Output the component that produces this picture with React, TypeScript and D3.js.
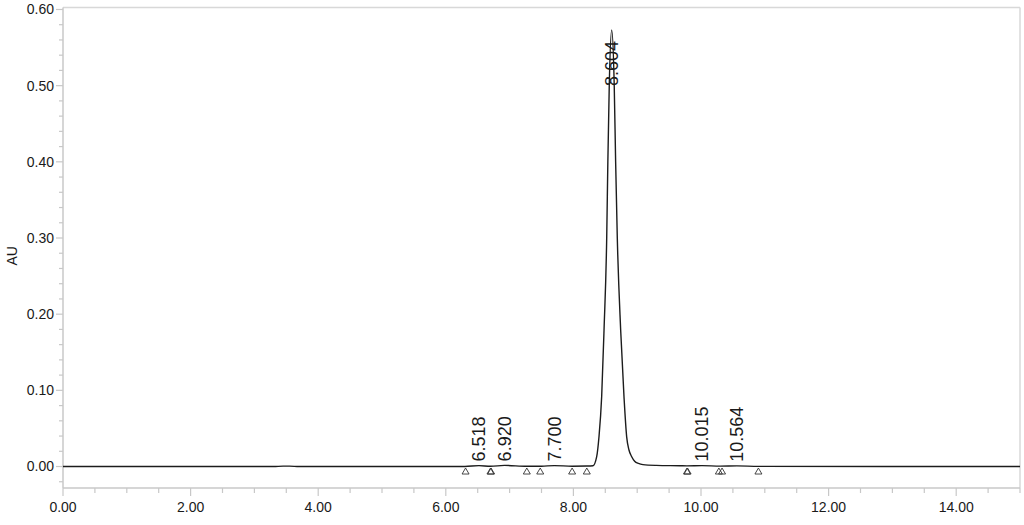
import React from "react";
import * as d3 from "d3";

// Chromatogram trace: retention time (min) and absorbance (AU)
const traceTime = [
  0, 3.3, 3.45, 3.55, 3.7, 6.3, 6.52, 6.7, 6.92, 7.27, 7.5, 7.7, 7.98, 8.21, 8.307,
  8.365, 8.401, 8.443, 8.48, 8.522, 8.54, 8.562, 8.6, 8.64, 8.662, 8.688, 8.741,
  8.793, 8.835, 8.87, 8.914, 8.96, 9.02, 9.09, 9.3, 9.67, 9.78, 10.015, 10.3, 10.564,
  10.9, 15,
];
const traceAU = [
  0, 0, 0.0005, 0.0005, 0, 0, 0.0012, 0.0003, 0.0015, 0.0003, 0.0004, 0.0012, 0.0004,
  0.0006, 0.001, 0.0129, 0.039, 0.0916, 0.179, 0.3, 0.4, 0.5, 0.573, 0.5,
  0.4, 0.3, 0.179, 0.0916, 0.039, 0.022, 0.0129, 0.007, 0.004, 0.0025, 0.0015,
  0.001, 0.0008, 0.0012, 0.0005, 0.0009, 0.0002, 0,
];

// Labelled peaks
const peakTimes = [6.518, 6.92, 7.7, 8.604, 10.015, 10.564];
const peakLabels = ["6.518", "6.920", "7.700", "8.604", "10.015", "10.564"];
const peakHeights = [0.0012, 0.0015, 0.0012, 0.573, 0.0012, 0.0009];

// Integration start/end markers (triangles)
const markerTimes = [6.31, 6.7, 6.71, 7.27, 7.48, 7.98, 8.21, 9.78, 9.79, 10.28, 10.33, 10.9];

// Axes
const xMajorTicks = [0, 2, 4, 6, 8, 10, 12, 14];
const xTickLabels = ["0.00", "2.00", "4.00", "6.00", "8.00", "10.00", "12.00", "14.00"];
const yMajorTicks = [0, 0.1, 0.2, 0.3, 0.4, 0.5, 0.6];
const yTickLabels = ["0.00", "0.10", "0.20", "0.30", "0.40", "0.50", "0.60"];
const yAxisTitle = "AU";

const W = 1024;
const H = 525;
const FONT = "'Liberation Sans', Arial, sans-serif";

export default function App() {
  const left = 63;
  const right = 1020;
  const top = 7.5;
  const bottom = 488;

  const x = d3.scaleLinear().domain([0, 15]).range([left, right]);
  const y = d3.scaleLinear().domain([-0.0282, 0.6026]).range([bottom, top]);

  const pts: [number, number][] = traceTime.map((t, i) => [t, traceAU[i]]);
  const line = d3
    .line<[number, number]>()
    .x((d) => x(d[0]))
    .y((d) => y(d[1]))
    .curve(d3.curveMonotoneX);

  const xMinor = d3.range(0, 15.01, 0.5).filter((v) => Math.abs(v / 2 - Math.round(v / 2)) > 1e-6);
  const yMinor = d3
    .range(-0.02, 0.601, 0.02)
    .filter((v) => Math.abs(v * 10 - Math.round(v * 10)) > 1e-6);

  const axisColor = "#c8c8c8";
  const textColor = "#1a1a1a";

  return (
    <svg
      width={W}
      height={H}
      style={{ position: "absolute", left: 0, top: 0, background: "#fff" }}
      fontFamily={FONT}
    >
      {/* frame */}
      <line x1={left} x2={right} y1={top} y2={top} stroke="#d8d8d8" strokeWidth={1.5} />
      <line x1={right} x2={right} y1={top} y2={bottom} stroke="#d8d8d8" strokeWidth={1.5} />
      <line x1={left} x2={left} y1={top} y2={bottom} stroke={axisColor} strokeWidth={1.5} />
      <line x1={left} x2={right} y1={bottom} y2={bottom} stroke={axisColor} strokeWidth={1.5} />

      {/* y ticks */}
      {yMajorTicks.map((v, i) => (
        <g key={"ym" + i}>
          <line x1={left - 7} x2={left} y1={y(v)} y2={y(v)} stroke={axisColor} strokeWidth={1.2} />
          <text
            x={left - 9}
            y={y(v)}
            dy="0.35em"
            textAnchor="end"
            fontSize={14}
            fill={textColor}
          >
            {yTickLabels[i]}
          </text>
        </g>
      ))}
      {yMinor.map((v, i) => (
        <line key={"yn" + i} x1={left - 4} x2={left} y1={y(v)} y2={y(v)} stroke={axisColor} strokeWidth={1.2} />
      ))}
      <text
        transform={`translate(17, ${(top + bottom) / 2 + 8}) rotate(-90)`}
        textAnchor="middle"
        fontSize={14}
        fill={textColor}
      >
        {yAxisTitle}
      </text>

      {/* x ticks */}
      {xMajorTicks.map((v, i) => (
        <g key={"xm" + i}>
          <line x1={x(v)} x2={x(v)} y1={bottom} y2={bottom + 8} stroke={axisColor} strokeWidth={1.2} />
          <text x={x(v)} y={bottom + 24} textAnchor="middle" fontSize={14} fill={textColor}>
            {xTickLabels[i]}
          </text>
        </g>
      ))}
      {xMinor.map((v, i) => (
        <line key={"xn" + i} x1={x(v)} x2={x(v)} y1={bottom} y2={bottom + 5} stroke={axisColor} strokeWidth={1.2} />
      ))}

      {/* trace */}
      <path d={line(pts) || ""} fill="none" stroke="#1c1c1c" strokeWidth={1.4} />

      {/* markers */}
      {markerTimes.map((t, i) => {
        const cx = x(t);
        const ty = y(0) + 1.5;
        return (
          <path
            key={"mk" + i}
            d={`M${cx},${ty} L${cx - 3.5},${ty + 6} L${cx + 3.5},${ty + 6} Z`}
            fill="none"
            stroke="#333"
            strokeWidth={0.9}
          />
        );
      })}

      {/* peak labels */}
      {peakTimes.map((t, i) => {
        const apex = y(peakHeights[i]);
        const textLen = 11 * peakLabels[i].length;
        let start = apex - 4;
        if (start - textLen < top) start = apex + 56;
        return (
          <text
            key={"pl" + i}
            transform={`translate(${x(t)}, ${start}) rotate(-90)`}
            dy="0.36em"
            fontSize={18}
            fill={textColor}
          >
            {peakLabels[i]}
          </text>
        );
      })}
    </svg>
  );
}
